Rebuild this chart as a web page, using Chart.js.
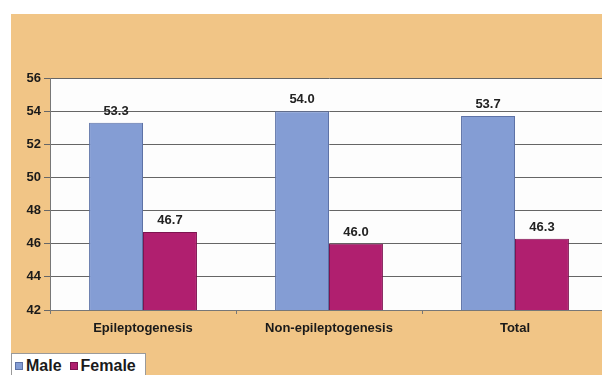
<!DOCTYPE html>
<html>
<head>
<meta charset="utf-8">
<script src="https://cdn.jsdelivr.net/npm/chart.js@4/dist/chart.umd.min.js"></script>
<style>
html,body{margin:0;padding:0;background:#fff;width:602px;height:375px;overflow:hidden;}
#wrap{position:absolute;left:11px;top:14px;width:597px;height:361px;background:#f1c586;}
#legend{position:absolute;left:11px;top:353px;width:135px;height:26px;background:#fff;border:1px solid #9a9a9a;box-sizing:border-box;
  font:bold 16px "Liberation Sans",Arial,sans-serif;color:#1a1a1a;display:flex;align-items:center;padding-left:3px;}
#legend span.sw{display:inline-block;width:8px;height:8px;margin-right:3px;box-sizing:border-box;}
#legend span.it{margin-right:8px;}
</style>
</head>
<body>
<div id="wrap"><canvas id="c" width="597" height="361"></canvas></div>
<div id="legend"></div>
<script>
const categories = ["Epileptogenesis", "Non-epileptogenesis", "Total"];
const seriesNames = ["Male", "Female"];
const maleValues = [53.3, 54.0, 53.7];
const femaleValues = [46.7, 46.0, 46.3];
const yTicks = [42, 44, 46, 48, 50, 52, 54, 56];

const colors = ["#849dd4", "#b01f6f"];
const borders = ["#5d72a6", "#7d1450"];
const FONT = '"Liberation Sans", Arial, sans-serif';

const plotBg = {
  id: 'plotBg',
  beforeDraw(chart) {
    const {ctx, chartArea: a} = chart;
    ctx.save();
    ctx.fillStyle = '#fdfdfd';
    ctx.fillRect(a.left, a.top, a.right - a.left, a.bottom - a.top);
    ctx.restore();
  }
};
const valueLabels = {
  id: 'valueLabels',
  afterDatasetsDraw(chart) {
    const ctx = chart.ctx;
    ctx.save();
    ctx.font = 'bold 13px ' + FONT;
    ctx.fillStyle = '#222';
    ctx.textAlign = 'center';
    ctx.textBaseline = 'bottom';
    chart.data.datasets.forEach((ds, i) => {
      chart.getDatasetMeta(i).data.forEach((bar, j) => {
        ctx.fillText(ds.data[j].toFixed(1), bar.x, bar.y - 5);
      });
    });
    ctx.restore();
  }
};

new Chart(document.getElementById('c'), {
  type: 'bar',
  data: {
    labels: categories,
    datasets: [
      {label: seriesNames[0], data: maleValues, backgroundColor: colors[0], borderColor: borders[0], borderWidth: 1},
      {label: seriesNames[1], data: femaleValues, backgroundColor: colors[1], borderColor: borders[1], borderWidth: 1}
    ]
  },
  options: {
    responsive: false,
    animation: false,
    devicePixelRatio: 1,
    categoryPercentage: 0.58,
    barPercentage: 1.0,
    layout: {padding: {top: 64, left: 0, right: 0, bottom: 0}},
    plugins: {legend: {display: false}, tooltip: {enabled: false}},
    scales: {
      x: {
        grid: {display: true, drawOnChartArea: false, offset: true, tickLength: 4, color: '#777'},
        border: {display: true, color: '#777'},
        ticks: {color: '#1a1a1a', font: {family: FONT, size: 13, weight: 'bold'}, padding: 7},
        afterFit(s) { s.height = 65; }
      },
      y: {
        min: yTicks[0], max: yTicks[yTicks.length - 1],
        afterBuildTicks(s) { s.ticks = yTicks.map(v => ({value: v})); },
        grid: {color: '#666', tickLength: 6, lineWidth: 1},
        border: {display: true, color: '#777'},
        ticks: {color: '#1a1a1a', font: {family: FONT, size: 13, weight: 'bold'}, padding: 3},
        afterFit(s) { s.width = 39; }
      }
    }
  },
  plugins: [plotBg, valueLabels]
});

const lg = document.getElementById('legend');
seriesNames.forEach((n, i) => {
  const sw = document.createElement('span');
  sw.className = 'sw';
  sw.style.background = colors[i];
  sw.style.border = '1px solid ' + borders[i];
  const t = document.createElement('span');
  t.className = 'it';
  t.textContent = n;
  lg.appendChild(sw); lg.appendChild(t);
});
</script>
</body>
</html>
